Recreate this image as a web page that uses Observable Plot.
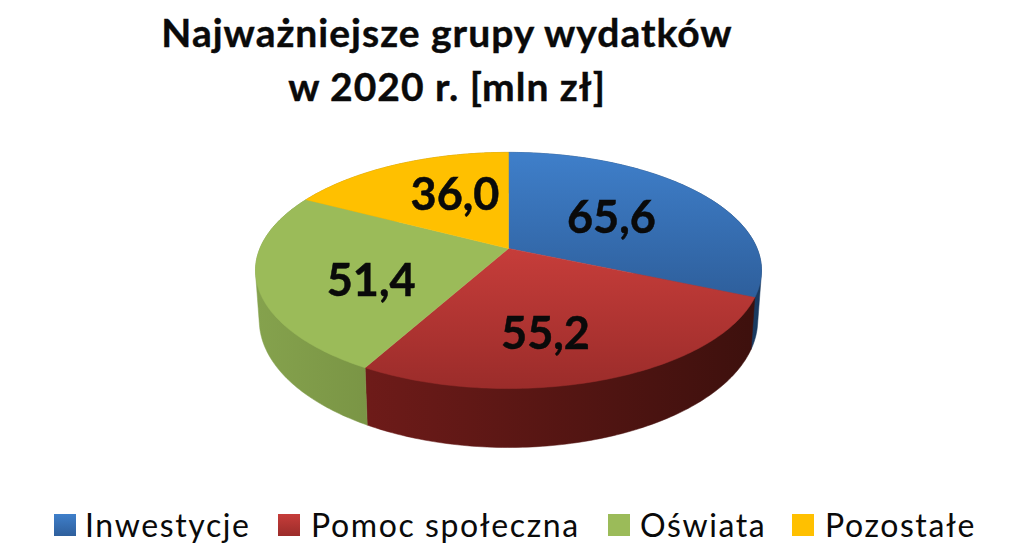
<!DOCTYPE html>
<html lang="pl">
<head>
<meta charset="utf-8">
<script src="https://cdn.jsdelivr.net/npm/d3@7"></script>
<script src="https://cdn.jsdelivr.net/npm/@observablehq/plot@0.6"></script>
<style>
  html, body { margin: 0; background: #fff; overflow: hidden; }
  body { width: 1024px; height: 560px; font-family: Lato, "Open Sans", sans-serif; color: #0a0a0a; }
  #title { width: 894px; height: 125px; padding-top: 5px; box-sizing: content-box; text-align: center;
           font-weight: 700; font-size: 39px; line-height: 54px; letter-spacing: 1px; -webkit-text-stroke: 0.4px #0a0a0a; }
  #chart svg { display: block; filter: blur(0.5px); }
  #legend { position: relative; height: 60px; font-size: 32px; line-height: 44px; letter-spacing: 1.6px; }
  #legend .sw { position: absolute; top: 14px; width: 22px; height: 22px; }
  #legend .lb { position: absolute; top: 3px; white-space: nowrap; }
  #chart text { stroke: #0a0a0a; stroke-width: 0.5px; }
</style>
</head>
<body>
<div id="title">Najważniejsze grupy wydatków<br>w 2020 r. [mln zł]</div>
<div id="chart"></div>
<div id="legend"></div>
<script>
// ---- data ----
const categories = ["Inwestycje", "Pomoc społeczna", "Oświata", "Pozostałe"];
const values = [65.6, 55.2, 51.4, 36.0];
const valueLabels = ["65,6", "55,2", "51,4", "36,0"];

// ---- styling ----
const topStops = [["#3f7fca", "#2e5f9c"], ["#c63d3a", "#9b2c2a"], ["#9bbb59", "#9bbb59"], ["#ffc000", "#ffc000"]];
const sideStops = [["#1f4470", "#1a3a60"], ["#6e1b19", "#3d100d"], ["#85a24d", "#7a9545"], ["#b88a00", "#a67c00"]];
const labelOffsets = [[4, 0], [-7, 27], [-15, 16], [6, -8]];
const legendSwatchX = [54, 278, 608, 792];
const legendTextX = [85, 311, 640, 825];

// ---- perspective model of a tilted disc ----
const W = 1024, H = 370, yTop = 130;
const cx = 508, cy = 248, rx = 248.6, ry = 114, k = 0.186, depth = 48, bottomScale = 0.985;
function project(angle, f, z = 0) {
  const u = Math.sin(angle) * f, v = -Math.cos(angle) * f, w = 1 - k * v;
  const s = z > 0 ? bottomScale : 1;
  return { x: cx + s * rx * u / w, y: cy + ry * v / w + z / w };
}
const arcs = d3.pie().sort(null)(values);
const arcPoints = (a, z) => d3.range(0, 101).map(i =>
  project(a.startAngle + (a.endAngle - a.startAngle) * i / 100, 1, z));

const gradientDefs = () => {
  const defs = d3.create("svg:defs");
  const add = (id, stops, horizontal) => {
    const g = defs.append("linearGradient").attr("id", id)
      .attr("x1", 0).attr("y1", 0).attr("x2", horizontal ? 1 : 0).attr("y2", horizontal ? 0 : 1);
    g.append("stop").attr("offset", "0%").attr("stop-color", stops[0]);
    g.append("stop").attr("offset", "100%").attr("stop-color", stops[1]);
  };
  topStops.forEach((s, i) => add("top" + i, s, false));
  sideStops.forEach((s, i) => add("side" + i, s, true));
  return defs.node();
};

const sideMarks = arcs.map((a, i) => {
  const hull = d3.polygonHull([...arcPoints(a, 0), ...arcPoints(a, depth)].map(p => [p.x, p.y]));
  const fill = `url(#side${i})`;
  return Plot.line([...hull, hull[0]], { x: d => d[0], y: d => d[1], fill, stroke: fill, strokeWidth: 0.5 });
});
const topMarks = arcs.map((a, i) => {
  const c = project(0, 0);
  const fill = `url(#top${i})`;
  return Plot.line([c, ...arcPoints(a, 0), c], { x: "x", y: "y", fill, stroke: fill, strokeWidth: 0.5 });
});
const labelMarks = arcs.map((a, i) => {
  const p = project((a.startAngle + a.endAngle) / 2, 0.5);
  return Plot.text([{ ...p, label: valueLabels[i] }], {
    x: "x", y: "y", text: "label", dx: labelOffsets[i][0], dy: labelOffsets[i][1],
    fontFamily: "Lato", fontWeight: 700, fontSize: 45, fill: "#0a0a0a"
  });
});

const chart = Plot.plot({
  width: W, height: H, margin: 0,
  x: { type: "linear", domain: [0, W], range: [0, W], axis: null },
  y: { type: "linear", domain: [yTop, yTop + H], range: [0, H], axis: null },
  marks: [gradientDefs, ...sideMarks, ...topMarks, ...labelMarks]
});
document.getElementById("chart").append(chart);

// ---- legend ----
const legend = document.getElementById("legend");
categories.forEach((name, i) => {
  const s = document.createElement("span");
  s.className = "sw";
  s.style.left = legendSwatchX[i] + "px";
  s.style.background = `linear-gradient(${topStops[i][0]}, ${topStops[i][1]})`;
  legend.append(s);
  const t = document.createElement("span");
  t.className = "lb";
  t.style.left = legendTextX[i] + "px";
  t.textContent = name;
  legend.append(t);
});
</script>
</body>
</html>
